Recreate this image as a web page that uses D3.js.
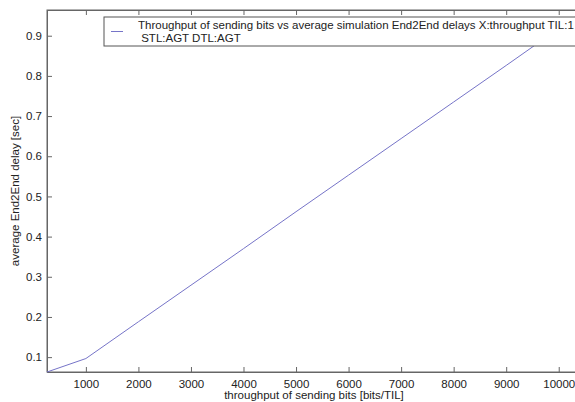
<!DOCTYPE html>
<html>
<head>
<meta charset="utf-8">
<script src="https://cdn.jsdelivr.net/npm/d3@7"></script>
<style>
  body { margin: 0; background: #fff; }
  text { font-family: "Liberation Sans", Arial, sans-serif; fill: #222; }
</style>
</head>
<body>
<div id="chart"></div>
<script>
// Data
var throughput = [260, 1000, 2000, 3000, 4000, 5000, 6000, 7000, 8000, 9000, 10000, 10500];
var delay = [0.063, 0.0965, 0.188, 0.279, 0.370, 0.462, 0.553, 0.644, 0.735, 0.826, 0.918, 0.964];
var xTicks = [1000, 2000, 3000, 4000, 5000, 6000, 7000, 8000, 9000, 10000];
var yTicks = [0.1, 0.2, 0.3, 0.4, 0.5, 0.6, 0.7, 0.8, 0.9];
var legendLines = ["Throughput of sending bits vs average simulation End2End delays X:throughput TIL:1",
                   " STL:AGT DTL:AGT"];

var svgWidth = 575;
var svgHeight = 402;

var margin = { top: 10, left: 47 };
var width = 538;   // plot runs past the right edge of the picture
var height = 362;

var svg = d3.select("#chart")
  .append("svg")
  .attr("width", svgWidth)
  .attr("height", svgHeight);

var chartGroup = svg.append("g")
  .attr("transform", `translate(${margin.left}, ${margin.top})`);

var xScale = d3.scaleLinear()
  .domain([d3.min(throughput), d3.max(throughput)])
  .range([0, width]);

var yScale = d3.scaleLinear()
  .domain([d3.min(delay), d3.max(delay)])
  .range([height, 0]);

var axisColor = "#666";

// box
chartGroup.append("rect")
  .attr("width", width)
  .attr("height", height)
  .attr("fill", "none")
  .attr("stroke", axisColor)
  .attr("stroke-width", 1);

// bottom axis, ticks pointing inward
var bottomAxis = d3.axisBottom(xScale).tickValues(xTicks).tickSize(-5).tickPadding(8).tickFormat(d3.format("d"));
var gx = chartGroup.append("g")
  .attr("transform", `translate(0, ${height})`)
  .call(bottomAxis);

var topAxis = d3.axisTop(xScale).tickValues(xTicks).tickSize(-5).tickFormat("");
var gt = chartGroup.append("g").call(topAxis);

var leftAxis = d3.axisLeft(yScale).tickValues(yTicks).tickSize(-5).tickPadding(5).tickFormat(d3.format(".1f"));
var gy = chartGroup.append("g").call(leftAxis);

[gx, gt, gy].forEach(function (g) {
  g.select(".domain").attr("stroke", axisColor);
  g.selectAll(".tick line").attr("stroke", axisColor);
  g.selectAll(".tick text")
    .attr("fill", "#222")
    .style("font-family", "'Liberation Sans', Arial, sans-serif")
    .style("font-size", "11.5px");
});

// the line
var line = d3.line()
  .x((d, i) => xScale(throughput[i]))
  .y((d, i) => yScale(delay[i]));

chartGroup.append("path")
  .datum(delay)
  .attr("d", line)
  .attr("fill", "none")
  .attr("stroke", "#7674c8")
  .attr("stroke-width", 1);

// legend (opaque box in the upper right)
var legend = chartGroup.append("g")
  .attr("transform", "translate(57, 7)");

legend.append("rect")
  .attr("width", 500)
  .attr("height", 29)
  .attr("fill", "#fff")
  .attr("stroke", "#555")
  .attr("stroke-width", 1);

legend.append("line")
  .attr("x1", 7).attr("x2", 19)
  .attr("y1", 14.5).attr("y2", 14.5)
  .attr("stroke", "#7674c8");

legend.selectAll("text.leg")
  .data(legendLines)
  .enter()
  .append("text")
  .attr("class", "leg")
  .attr("x", 34)
  .attr("y", (d, i) => 12 + i * 12.5)
  .attr("font-size", "11.5px")
  .attr("xml:space", "preserve")
  .style("white-space", "pre")
  .text(d => d);

// axis labels
svg.append("text")
  .attr("transform", "rotate(-90)")
  .attr("x", -(margin.top + height / 2))
  .attr("y", 19)
  .attr("text-anchor", "middle")
  .attr("font-size", "11.5px")
  .text("average End2End delay [sec]");

svg.append("text")
  .attr("x", 314)
  .attr("y", 399)
  .attr("text-anchor", "middle")
  .attr("font-size", "11.5px")
  .text("throughput of sending bits [bits/TIL]");
</script>
</body>
</html>
